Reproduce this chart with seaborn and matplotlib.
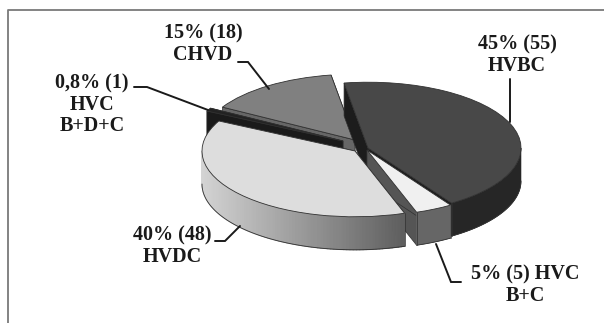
import numpy as np
import matplotlib
matplotlib.use("Agg")
import matplotlib.pyplot as plt
from matplotlib.collections import PolyCollection
from matplotlib.colors import to_rgb
from matplotlib.patches import Polygon
import seaborn as sns

# Patient counts per valve-disease group
groups = ["HVBC", "HVC B+C", "HVDC", "HVC B+D+C", "CHVD"]
counts = [55, 5, 48, 1, 18]
labels = ["45% (55)\nHVBC", "5% (5) HVC\nB+C", "40% (48)\nHVDC",
          "0,8% (1)\nHVC\nB+D+C", "15% (18)\nCHVD"]

top_colors = ["#484848", "#f0f0f0", "#dddddd", "#222222", "#808080"]
wall_colors = ["#262626", "#666666", "#d4d4d4", "#1a1a1a", "#5e5e5e"]
cut_colors = ["#1c1c1c", "#555555", "#555555", "#1a1a1a", "#666666"]
wall_end_color = "#5f5f5f"

# Scene geometry, in pixels of the 604x323 canvas
W, H = 604, 323
TILT = 0.43
RADIUS = 153
DEPTH = 33
CX, CY = 358, 146
offsets = [(10, 2), (9, 4), (-3, 5), (-15, -5), (-3, -6)]
paint_order = [4, 3, 0, 1, 2]

sns.set_theme(style="white")
plt.rcParams["font.family"] = ["Liberation Serif", "DejaVu Serif"]

fig = plt.figure(figsize=(W / 100, H / 100), dpi=100, facecolor="white")
ax = fig.add_axes([0, 0, 1, 1])

wedges, _ = ax.pie(counts, startangle=99, counterclock=False, radius=RADIUS,
                   colors=top_colors, center=(0, 0),
                   wedgeprops={"edgecolor": "#303030", "linewidth": 0.6})
ax.set_aspect("auto")
ax.set_xlim(-CX, W - CX)
ax.set_ylim((CY - H) / TILT, CY / TILT)
ax.axis("off")


def px(x, y):
    """Canvas pixel position to data coordinates of the tilted pie."""
    return x - CX, (CY - y) / TILT


def rim(center, theta, drop=0.0):
    """Point on a slice's rim, dropped by the extrusion depth if requested."""
    t = np.radians(theta)
    return (center[0] + RADIUS * np.cos(t),
            center[1] + RADIUS * np.sin(t) - drop)


drop = DEPTH / TILT
line_kw = dict(edgecolor="#303030", linewidth=0.5)

for z, i in enumerate(paint_order):
    w = wedges[i]
    cx, cy = offsets[i][0], -offsets[i][1] / TILT
    w.set_center((cx, cy))
    w.set_zorder(3 * z + 3)
    c = (cx, cy)

    # Radial cut faces on both sides of the slice
    for theta in (w.theta1, w.theta2):
        outer = rim(c, theta)
        quad = [c, outer, (outer[0], outer[1] - drop), (c[0], c[1] - drop)]
        ax.add_patch(Polygon(quad, closed=True, facecolor=cut_colors[i],
                             zorder=3 * z + 1, **line_kw))

    # Outer rim, only where it faces the viewer (pie angles run below zero here)
    lo, hi = max(w.theta1, -180), min(w.theta2, 0)
    if lo < hi:
        angles = np.linspace(lo, hi, 90)
        upper = [rim(c, a) for a in angles]
        bottom = np.array([rim(c, a, drop) for a in angles])
        if groups[i] == "HVDC":
            # Shaded rim: light on the left, darkening towards the right
            strips = [[upper[k], upper[k + 1], bottom[k + 1], bottom[k]]
                      for k in range(len(angles) - 1)]
            s = np.array([(upper[k][0] + upper[k + 1][0]) / 2
                          for k in range(len(angles) - 1)])
            s = (s - s.min()) / (s.max() - s.min())
            light = np.array(to_rgb(wall_colors[i]))
            dark = np.array(to_rgb(wall_end_color))
            face = [tuple(light + (dark - light) * v) for v in s]
            ax.add_collection(PolyCollection(strips, facecolors=face, edgecolors=face,
                                             linewidths=0.8, zorder=3 * z + 2))
        else:
            outline = np.vstack([upper, bottom[::-1]])
            ax.add_patch(Polygon(outline, closed=True, facecolor=wall_colors[i],
                                 edgecolor=wall_colors[i], linewidth=0.4,
                                 zorder=3 * z + 2))
        ax.plot(bottom[:, 0], bottom[:, 1], color="#303030", lw=0.6, zorder=3 * z + 2)
        for a in (lo, hi):
            if a in (w.theta1, w.theta2):
                ax.plot(*zip(rim(c, a), rim(c, a, drop)), color="#303030", lw=0.5,
                        zorder=3 * z + 2)

# Leader lines from each label to its slice
leaders = {
    "HVBC": [(510, 79), (510, 122)],
    "HVC B+C": [(436, 244), (451, 282), (461, 282)],
    "HVDC": [(215, 241), (225, 241), (240, 226)],
    "HVC B+D+C": [(134, 87), (147, 87), (208, 110)],
    "CHVD": [(238, 62), (248, 62), (269, 89)],
}
for pts in leaders.values():
    xs, ys = zip(*[px(*p) for p in pts])
    ax.plot(xs, ys, color="#1a1a1a", lw=1.4, zorder=40, solid_joinstyle="miter")

# Slice labels
anchors = [(517, 55), (525, 285), (172, 246), (92, 105), (203, 44)]
for text, (x, y) in zip(labels, anchors):
    ax.text(*px(x, y), text, ha="center", va="center", fontsize=14.5, fontweight="bold",
            color="#1a1a1a", linespacing=1.08, zorder=41)

# Chart frame: left and top rules
xs, ys = zip(*[px(*p) for p in [(8, H), (8, 10), (W, 10)]])
ax.plot(xs, ys, color="#7a7a7a", lw=1.3, zorder=1, clip_on=False)

fig.savefig("out.png", dpi=100, facecolor="white")
